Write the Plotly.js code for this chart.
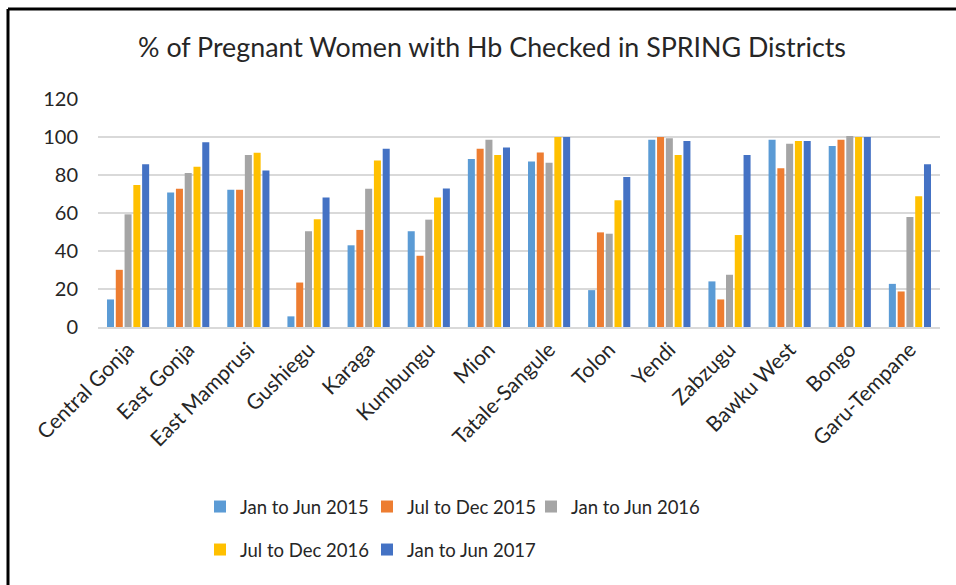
<!DOCTYPE html>
<html>
<head>
<meta charset="utf-8">
<script src="https://cdn.plot.ly/plotly-3.0.1.min.js"></script>
<style>
  html, body { margin: 0; padding: 0; background: #fff; }
  #chart { width: 956px; height: 585px; }
</style>
</head>
<body>
<div id="chart"></div>
<script>
const districts = ["Central Gonja", "East Gonja", "East Mamprusi", "Gushiegu", "Karaga", "Kumbungu", "Mion", "Tatale-Sangule", "Tolon", "Yendi", "Zabzugu", "Bawku West", "Bongo", "Garu-Tempane"];
const seriesNames = ["Jan to Jun 2015", "Jul to Dec 2015", "Jan to Jun 2016", "Jul to Dec 2016", "Jan to Jun 2017"];
const janJun2015 = [14.5, 70.8, 72.2, 5.6, 43.0, 50.4, 88.4, 87.1, 19.4, 98.6, 24.0, 98.6, 95.2, 22.7];
const julDec2015 = [30.1, 72.7, 72.2, 23.4, 51.1, 37.5, 93.8, 91.9, 49.8, 100.0, 14.5, 83.6, 98.6, 18.7];
const janJun2016 = [59.3, 81.0, 90.5, 50.4, 72.7, 56.5, 98.6, 86.4, 49.1, 99.3, 27.5, 96.5, 100.5, 57.9];
const julDec2016 = [74.8, 84.3, 91.7, 56.7, 87.6, 68.1, 90.5, 100.0, 66.7, 90.5, 48.4, 97.9, 100.0, 68.8];
const janJun2017 = [85.7, 97.3, 82.4, 68.1, 93.8, 72.9, 94.5, 100.0, 78.9, 97.9, 90.5, 97.9, 100.0, 85.7];
const yTicks = [0, 20, 40, 60, 80, 100, 120];

const values = [janJun2015, julDec2015, janJun2016, julDec2016, janJun2017];
const colors = ["#5B9BD5", "#ED7D31", "#A5A5A5", "#FFC000", "#4472C4"];
const legendIds = ["legend2", "legend3", "legend4", "legend5", "legend6"];

const FONT = "Lato, 'Open Sans', sans-serif";

const traces = values.map((v, i) => ({
  type: "bar",
  name: seriesNames[i],
  x: districts,
  y: v,
  marker: { color: colors[i], line: { width: 0 } },
  legend: legendIds[i],
  showlegend: true,
  hoverinfo: "x+y+name"
}));

const W = 956, H = 585;
const L = 98, R = 16, T = 99, B = 258;
const pw = W - L - R, ph = H - T - B;
const px = x => (x - L) / pw;
const py = y => (H - B - y) / ph;

// legend anchor positions in pixels
const legendPos = [[200, 507], [367, 507], [531, 507], [200, 550], [367, 550]];

const layout = {
  width: W,
  height: H,
  margin: { l: L, r: R, t: T, b: B },
  paper_bgcolor: "#fff",
  plot_bgcolor: "#fff",
  showlegend: true,
  font: { family: FONT, color: "#262626" },
  title: {
    text: "% of Pregnant Women with Hb Checked in SPRING Districts",
    font: { family: FONT, size: 26.8, color: "#262626" },
    x: 492 / W,
    xanchor: "center",
    xref: "container",
    yref: "container",
    y: 1 - 48 / H,
    yanchor: "middle"
  },
  barmode: "group",
  bargap: 0.27,
  bargroupgap: 0.2,
  xaxis: {
    type: "category",
    tickangle: -45,
    tickfont: { family: FONT, size: 21, color: "#262626" },
    showline: true,
    linecolor: "#D9D9D9",
    linewidth: 2,
    ticks: "",
    showgrid: false,
    fixedrange: true
  },
  yaxis: {
    range: [0, 120],
    tickvals: yTicks,
    ticktext: yTicks.map(String),
    tickfont: { family: FONT, size: 20, color: "#262626" },
    showgrid: true,
    gridcolor: "#D9D9D9",
    gridwidth: 2,
    zeroline: false,
    showline: false,
    ticks: "",
    ticklabelstandoff: 19,
    fixedrange: true
  },
  shapes: [
    { type: "line", xref: "paper", yref: "paper", x0: px(8), x1: px(956), y0: py(9), y1: py(9), line: { color: "#000", width: 3 } },
    { type: "line", xref: "paper", yref: "paper", x0: px(8), x1: px(8), y0: py(9), y1: py(585), line: { color: "#000", width: 3 } }
  ]
};

legendIds.forEach((id, i) => {
  layout[id] = {
    orientation: "h",
    xanchor: "left",
    yanchor: "middle",
    x: px(legendPos[i][0]),
    y: py(legendPos[i][1]),
    font: { family: FONT, size: 18.5, color: "#262626" },
    bgcolor: "rgba(0,0,0,0)"
  };
});

Plotly.newPlot("chart", traces, layout, { displayModeBar: false, staticPlot: true });
</script>
</body>
</html>
